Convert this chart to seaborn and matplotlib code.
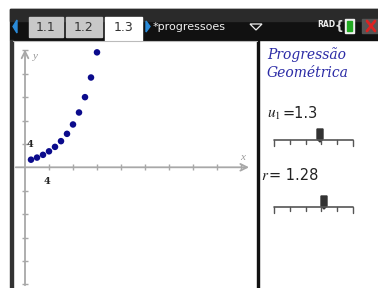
import matplotlib
matplotlib.use("Agg")
import matplotlib.pyplot as plt
from matplotlib.patches import Rectangle, Polygon
import seaborn as sns
import pandas as pd

# ---- data ----
n_values = [1, 2, 3, 4, 5, 6, 7, 8, 9, 10, 11, 12]
u_values = [1.3, 1.66, 2.13, 2.73, 3.49, 4.47, 5.72, 7.32, 9.37, 11.99, 15.35, 19.65]
tab_labels = ["1.1", "1.2", "1.3"]
doc_name = "*progressoes"
panel_title = ["Progressão", "Geométrica"]
u1_value = "1.3"
r_value = "1.28"
tick_step = 4

sns.set_theme(style="white")
plt.rcParams['font.family'] = ['DejaVu Sans']
plt.rcParams['mathtext.fontset'] = 'stix'

W, H = 378, 288
fig = plt.figure(figsize=(W / 100, H / 100), dpi=100)

# background overlay in pixel coords
bg = fig.add_axes([0, 0, 1, 1])
bg.set_xlim(0, W)
bg.set_ylim(H, 0)
bg.axis("off")

# header bar
bg.add_patch(Rectangle((10, 9), W - 10, 31, color="#111111"))
bg.add_patch(Rectangle((10, 9), W - 10, 12, color="#2a2a2a"))
# left border / divider
bg.add_patch(Rectangle((10, 40), 3, H - 40, color="#333333"))
bg.add_patch(Rectangle((257, 40), 2, H - 40, color="#111111"))
bg.plot([13, 257], [41, 41], color="#bbbbbb", lw=0.8)

# left arrow
bg.add_patch(Polygon([[17, 20], [17, 33], [13, 26.5]], color="#2a8ad8"))
# tabs
tabs = [(29, 63, "#c8c8c8"), (66, 102, "#c8c8c8"), (105, 142, "#ffffff")]
for (x0, x1, c), lab in zip(tabs, tab_labels):
    top = 17
    bottom = 37 if c != "#ffffff" else 41
    bg.add_patch(Rectangle((x0, top), x1 - x0, bottom - top, color=c))
    bg.text((x0 + x1) / 2, 27.5, lab, ha="center", va="center",
            fontsize=9, color="#333333")
# right arrow
bg.add_patch(Polygon([[146, 21], [146, 32], [150, 26.5]], color="#2a8ad8"))
bg.text(153, 27, doc_name, ha="left", va="center", fontsize=8, color="#eeeeee")
bg.add_patch(Polygon([[250, 24], [262, 24], [256, 30]], closed=True,
                     fill=False, ec="#eeeeee", lw=0.9))
bg.text(317, 24.5, "RAD", ha="left", va="center", fontsize=5.5,
        color="#eeeeee", fontweight="bold")
bg.text(334, 26, "{", ha="left", va="center", fontsize=9,
        color="#dddddd", fontweight="bold")
bg.add_patch(Rectangle((345, 19), 9, 14, color="#eeeeee"))
bg.add_patch(Rectangle((347, 21), 5, 10, color="#22aa22"))
bg.add_patch(Rectangle((362, 19), 16, 14, color="#555555"))
bg.plot([367, 375], [21, 31], color="#dd2222", lw=2)
bg.plot([367, 375], [31, 21], color="#dd2222", lw=2)

# right panel text
blue = "#2b2ba6"
bg.text(267, 55, panel_title[0], ha="left", va="center", fontsize=10,
        color=blue, style="italic", family="DejaVu Serif")
bg.text(267, 73, panel_title[1], ha="left", va="center", fontsize=10,
        color=blue, style="italic", family="DejaVu Serif")
bg.text(267, 114, r"$u_1$", ha="left", va="center", fontsize=11,
        color="#222222")
bg.text(282, 114, "=" + u1_value, ha="left", va="center", fontsize=10.5,
        color="#222222")
bg.text(261, 175, r"$r$", ha="left", va="center", fontsize=11,
        color="#222222")
bg.text(269, 175, "= " + r_value, ha="left", va="center", fontsize=10.5,
        color="#222222")


def slider(y, xh):
    x0, x1 = 274, 353
    bg.plot([x0, x1], [y, y], color="#555555", lw=1.2)
    for i in range(6):
        xt = x0 + i * (x1 - x0) / 5
        ln = 6 if i in (0, 5) else 3.5
        bg.plot([xt, xt], [y, y + ln], color="#555555", lw=1)
    bg.add_patch(Polygon([[xh - 3, y - 11], [xh + 3, y - 11], [xh + 3, y - 1],
                          [xh, y + 2], [xh - 3, y - 1]], color="#333333"))


slider(140, 320)
slider(207, 324)

# ---- graph axes ----
x0p, x1p, y0p, y1p = 13, 257, 41, 288
ax = fig.add_axes([x0p / W, 1 - y1p / H, (x1p - x0p) / W, (y1p - y0p) / H])
ox, oy = 25, 167.3
sx, sy = 6.0, 5.85
ax.set_xlim((x0p - ox) / sx, (x1p - ox) / sx)
ax.set_ylim(-(y1p - oy) / sy, (oy - y0p) / sy)
ax.axis("off")

axis_c = "#a8a8a8"
xmax = 37.8
ymax = 20.6
ax.annotate("", xy=(xmax, 0), xytext=(ax.get_xlim()[0], 0),
            arrowprops=dict(arrowstyle="->", color=axis_c, lw=1.3))
ax.annotate("", xy=(0, ymax), xytext=(0, ax.get_ylim()[0]),
            arrowprops=dict(arrowstyle="->", color=axis_c, lw=1.3))
xt = list(range(tick_step, 37, tick_step))
yt = [v for v in range(-20, 21, tick_step) if v != 0]
ax.plot(xt, [0] * len(xt), ls="none", marker="|", ms=4, color=axis_c, mew=1)
ax.plot([0] * len(yt), yt, ls="none", marker="_", ms=4, color=axis_c, mew=1)
ax.text(36.2, 1.6, "x", fontsize=8, color="#999999", style="italic",
        family="Liberation Serif", ha="center", va="center")
ax.text(1.8, 19.0, "y", fontsize=8, color="#999999", style="italic",
        family="Liberation Serif", ha="center", va="center")
ax.text(tick_step - 0.4, -2.4, str(tick_step), fontsize=7, fontweight="bold",
        family="DejaVu Serif", ha="center", va="center", color="#222222")
ax.text(0.9, tick_step - 0.1, str(tick_step), fontsize=7, fontweight="bold",
        family="DejaVu Serif", ha="center", va="center", color="#222222")

df = pd.DataFrame({"n": n_values, "u": u_values})
sns.scatterplot(data=df, x="n", y="u", ax=ax, color="#0b0b8c", s=22,
                edgecolor="none", legend=False)
ax.set_xlim((x0p - ox) / sx, (x1p - ox) / sx)
ax.set_ylim(-(y1p - oy) / sy, (oy - y0p) / sy)
ax.axis("off")

fig.savefig("out.png", dpi=100)
